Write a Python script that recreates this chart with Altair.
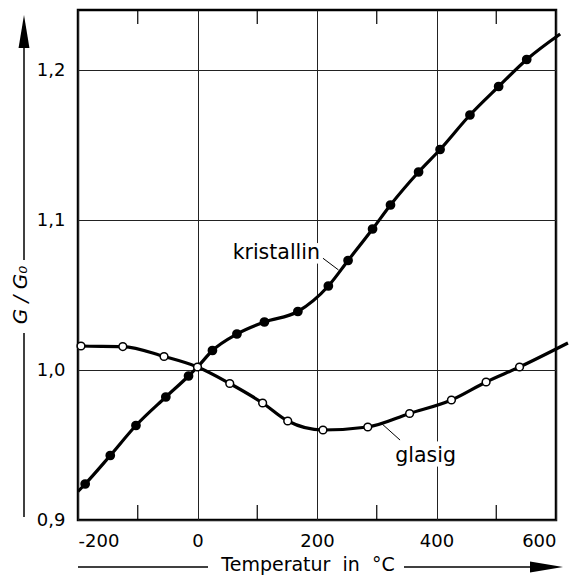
import altair as alt
import pandas as pd

# ---- data ----
kr_x = [-188, -146, -103, -53, -15, 25, 66, 112, 168, 219, 252, 293, 323, 370, 406, 456, 504, 551]
kr_y = [0.924, 0.943, 0.963, 0.982, 0.996, 1.013, 1.024, 1.032, 1.039, 1.056, 1.073, 1.094,
        1.110, 1.132, 1.147, 1.170, 1.189, 1.207]
kr_ends_x = [-200, 607]
kr_ends_y = [0.919, 1.224]

gl_x = [-195, -125, -56, 0, 54, 109, 151, 210, 285, 355, 425, 483, 539]
gl_y = [1.016, 1.0156, 1.009, 1.002, 0.991, 0.978, 0.966, 0.960, 0.962, 0.971, 0.980, 0.992, 1.002]
gl_ends_x = [-200, 620]
gl_ends_y = [1.018, 1.018]

cross_x = [0]
cross_y = [1.002]

x_major = [-200, 0, 200, 400, 600]
x_minor = [-100, 100, 300, 500]
y_major = [0.9, 1.0, 1.1, 1.2]

labels = ["kristallin", "glasig"]
label_x = [205, 331]
label_y = [1.078, 0.9427]
label_align = ["right", "left"]

leader_x = [210, 309]
leader_y = [1.0745, 0.964]
leader_x2 = [236, 339]
leader_y2 = [1.0667, 0.9533]

W, H = 478, 510
FONT = "DejaVu Sans"

kr_line = pd.DataFrame({"x": [kr_ends_x[0]] + kr_x + cross_x + [kr_ends_x[1]],
                        "y": [kr_ends_y[0]] + kr_y + cross_y + [kr_ends_y[1]]})
gl_line = pd.DataFrame({"x": [gl_ends_x[0]] + gl_x + [gl_ends_x[1]],
                        "y": [gl_ends_y[0]] + gl_y + [gl_ends_y[1]]})
kr_pts = pd.DataFrame({"x": kr_x, "y": kr_y})
gl_pts = pd.DataFrame({"x": gl_x, "y": gl_y})
lead_df = pd.DataFrame({"x": leader_x, "y": leader_y, "x2": leader_x2, "y2": leader_y2})
minor_df = pd.DataFrame({"x": x_minor})

xs = alt.Scale(domain=[-200, 600], nice=False, zero=False)
ys = alt.Scale(domain=[0.9, 1.24], nice=False, zero=False)

X = alt.X("x:Q", scale=xs, axis=alt.Axis(
    values=x_major, grid=True, gridColor="#222", gridWidth=1, domain=False,
    ticks=False, tickSize=0, labelPadding=12, labelFontSize=18, labelFont=FONT,
    labelColor="black", title=None,
    labelExpr="datum.value < 0 ? '-' + format(-datum.value, 'd') : format(datum.value, 'd')"))
Y = alt.Y("y:Q", scale=ys, axis=alt.Axis(
    values=y_major, grid=True, gridColor="#222", gridWidth=1, domain=False,
    ticks=False, tickSize=0, labelPadding=13, labelFontSize=18, labelFont=FONT,
    labelColor="black", title=None,
    labelExpr="replace(format(datum.value, '.1f'), '.', ',')"))

# base axes/grid (invisible points)
base = alt.Chart(kr_pts).mark_point(opacity=0).encode(x=X, y=Y)

xe = alt.X("x:Q", scale=xs)
ye = alt.Y("y:Q", scale=ys)


def label_layers(i, halo):
    df = pd.DataFrame({"t": [labels[i]], "x": [label_x[i]], "y": [label_y[i]]})
    if halo:
        m = alt.Chart(df).mark_text(fontSize=20.5, font=FONT, stroke="white", strokeWidth=9,
                                    fill="white", baseline="middle", align=label_align[i])
    else:
        m = alt.Chart(df).mark_text(fontSize=20.5, font=FONT, color="black",
                                    baseline="middle", align=label_align[i])
    return m.encode(x=xe, y=ye, text="t:N")


halos = [label_layers(i, True) for i in range(len(labels))]
texts = [label_layers(i, False) for i in range(len(labels))]

minor_bot = alt.Chart(minor_df).mark_rule(color="black", strokeWidth=1.2).encode(
    x=xe, y=alt.value(H), y2=alt.value(H - 15))
minor_top = alt.Chart(minor_df).mark_rule(color="black", strokeWidth=1.2).encode(
    x=xe, y=alt.value(0), y2=alt.value(14))

kr_l = alt.Chart(kr_line).mark_line(color="black", strokeWidth=3.2, interpolate="monotone").encode(x=xe, y=ye)
gl_l = alt.Chart(gl_line).mark_line(color="black", strokeWidth=3.2, interpolate="monotone").encode(x=xe, y=ye)
kr_p = alt.Chart(kr_pts).mark_point(shape="circle", filled=True, fill="black", stroke="black",
                                    size=60, opacity=1).encode(x=xe, y=ye)
gl_p = alt.Chart(gl_pts).mark_point(shape="circle", filled=True, fill="white", stroke="black",
                                    strokeWidth=1.5, size=60, opacity=1).encode(x=xe, y=ye)

leads = alt.Chart(lead_df).mark_rule(color="black", strokeWidth=1).encode(
    x=xe, y=ye, x2="x2:Q", y2="y2:Q")

one = alt.Data(values=[{}])
# y-axis title with arrow
y_line_low = alt.Chart(one).mark_rule(color="black", strokeWidth=1.5).encode(
    x=alt.value(-54), y=alt.value(323), y2=alt.value(507))
y_line_up = alt.Chart(one).mark_rule(color="black", strokeWidth=1.5).encode(
    x=alt.value(-54), y=alt.value(36), y2=alt.value(250))
y_head = alt.Chart(one).mark_point(shape="M0,-1L0.33,1L-0.33,1Z", filled=True, fill="black",
                                   strokeWidth=0, size=1089, opacity=1).encode(
    x=alt.value(-54), y=alt.value(21.5))
y_title = alt.Chart(one).mark_text(text="G / G₀", fontSize=20, font=FONT, fontStyle="italic",
                                   angle=270, color="black", baseline="middle", align="center").encode(
    x=alt.value(-57), y=alt.value(285))

# x-axis title with arrow
x_line_l = alt.Chart(one).mark_rule(color="black", strokeWidth=1.5).encode(
    x=alt.value(0), x2=alt.value(130), y=alt.value(557))
x_line_r = alt.Chart(one).mark_rule(color="black", strokeWidth=1.5).encode(
    x=alt.value(326), x2=alt.value(455), y=alt.value(557))
x_head = alt.Chart(one).mark_point(shape="M1,0L-1,-0.33L-1,0.33Z", filled=True, fill="black",
                                   strokeWidth=0, size=1089, opacity=1).encode(
    x=alt.value(468.5), y=alt.value(557))
x_title = alt.Chart(one).mark_text(text="Temperatur\u00a0\u00a0in\u00a0\u00a0°C", fontSize=19, font=FONT,
                                   color="black", baseline="middle", align="center").encode(
    x=alt.value(230), y=alt.value(555))

chart = alt.layer(
    base, minor_bot, minor_top, *halos, kr_l, gl_l, kr_p, gl_p, leads, *texts,
    y_line_low, y_line_up, y_head, y_title, x_line_l, x_line_r, x_head, x_title
).properties(
    width=W, height=H,
    padding={"left": 70, "top": 2, "right": 21, "bottom": 55},
    autosize=alt.AutoSizeParams(type="none"),
    background="white",
).configure_view(stroke="black", strokeWidth=2.5)

chart.save("out.html", embed_options={"renderer": "svg", "actions": False})
